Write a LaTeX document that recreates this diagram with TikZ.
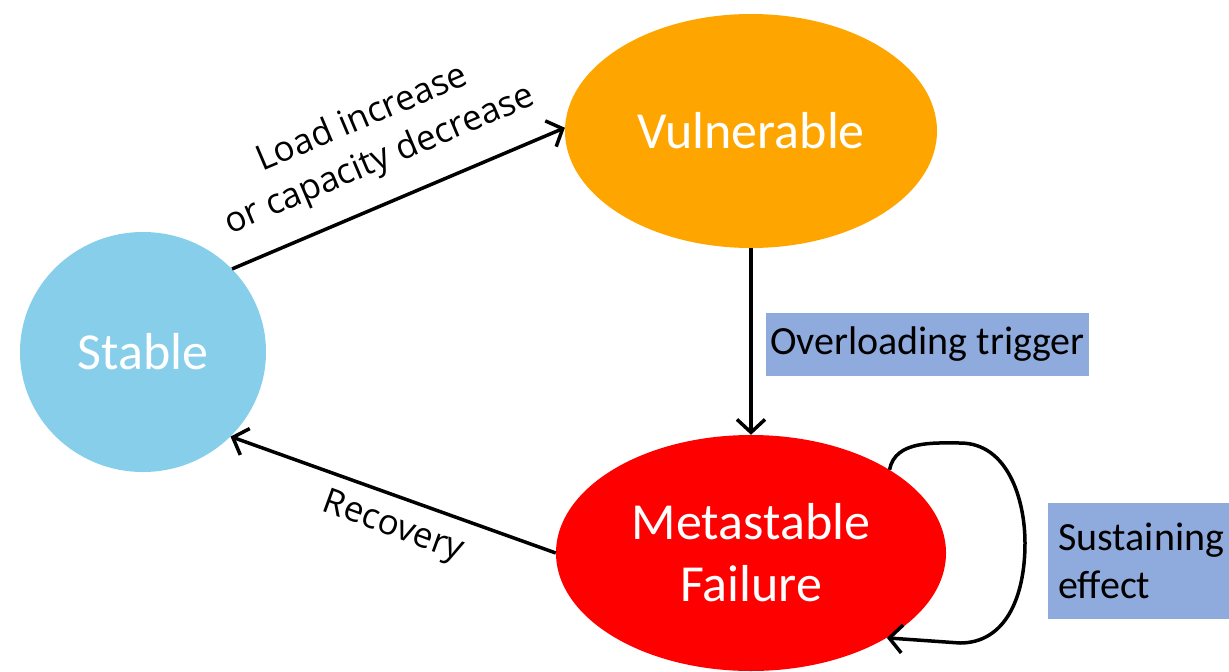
\documentclass[tikz,border=0pt]{standalone}
\usepackage{fontspec}
\setmainfont{Carlito}
\newfontfamily\lblfont{Open Sans}
\usetikzlibrary{shapes.geometric,arrows.meta}
\definecolor{stablecol}{HTML}{87CEEB}
\definecolor{vulncol}{HTML}{FFA500}
\definecolor{metacol}{HTML}{FF0000}
\definecolor{boxcol}{HTML}{8FAADC}
\begin{document}
\begin{tikzpicture}[x=1pt,y=-1pt,
  state/.style={ellipse,inner sep=0pt,text=white,align=center,
    font=\fontsize{52}{62}\selectfont},
  conn/.style={line width=3.5pt,-{Straight Barb[length=13pt,width=28pt,line width=3.5pt]}},
  lbl/.style={font=\lblfont\fontsize{35}{45}\selectfont,align=center,inner sep=0pt},
  tag/.style={fill=boxcol,font=\fontsize{40}{48}\selectfont,inner sep=0pt}]
\clip (0,0) rectangle (1229,672);
\node[state,fill=stablecol,minimum width=246pt,minimum height=240pt] (stable) at (143,352) {Stable};
\node[state,fill=vulncol,minimum width=372pt,minimum height=234pt] (vuln) at (751,131) {Vulnerable};
\node[state,fill=metacol,minimum width=390pt,minimum height=236pt] (meta) at (751,553) {Metastable\\Failure};
\draw[conn] (stable.43) -- (vuln.179);
\draw[conn] (vuln.south) -- (meta.north);
\draw[conn] (meta.180) -- (stable.-44);
\draw[conn] (meta.31) .. controls (895,440) and (935,443) .. (960,443)
  .. controls (1008,443) and (1025,500) .. (1025,543)
  .. controls (1025,598) and (1005,643) .. (960,643) -- (meta.-32);
\node[lbl,rotate=23] (loadlbl) at (371,140) {Load increase\\or capacity decrease};
\node[lbl,rotate=-20] (reclbl) at (393,528) {Recovery};
\node[tag,minimum width=323pt,minimum height=63pt] (trig) at (927.5,344.5) {Overloading trigger};
\node[tag,anchor=west,minimum width=190pt,minimum height=116pt,text width=170pt,inner xsep=10pt,align=left] (sust) at (1048,561) {Sustaining\\effect};
\end{tikzpicture}
\end{document}
